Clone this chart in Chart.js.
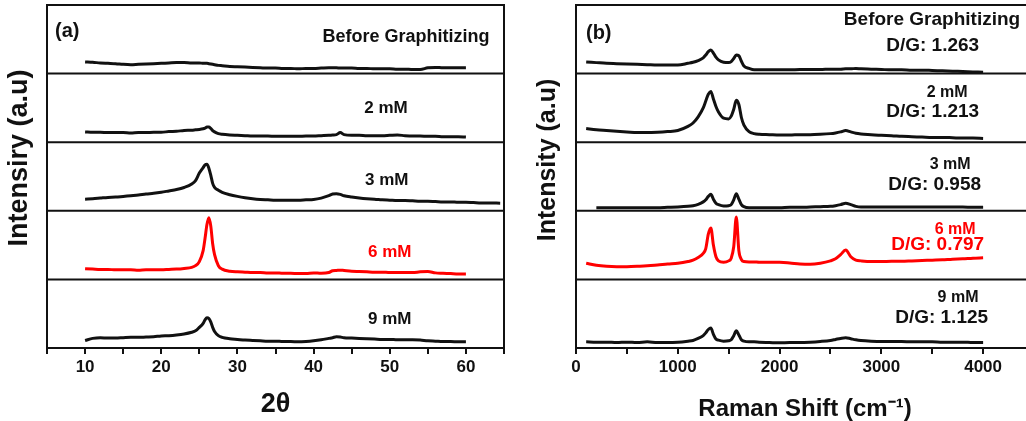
<!DOCTYPE html>
<html lang="en">
<head>
<meta charset="UTF-8">
<title>XRD and Raman spectra</title>
<script src="https://cdn.jsdelivr.net/npm/chart.js"></script>
<style>
  html, body { margin: 0; padding: 0; background: #fff; overflow: hidden; }
  #wrap { position: relative; width: 1026px; height: 421px; overflow: hidden; }
  canvas { position: absolute; top: 0; }
  #xrd { left: 0; }
  #raman { left: 513px; }
</style>
</head>
<body>
<div id="wrap">
  <canvas id="xrd" width="513" height="421"></canvas>
  <canvas id="raman" width="530" height="421"></canvas>
</div>
<script>
// ---- data ----
const samples = ['Before Graphitizing', '2 mM', '3 mM', '6 mM', '9 mM'];
const dgRatio = [1.263, 1.213, 0.958, 0.797, 1.125];
const seriesColor = ['#111', '#111', '#111', '#ff0000', '#111'];

// (a) XRD, 2theta in degrees, intensity in % of each sub-panel
const twoTheta = [10, 11, 12, 13, 14, 15, 16, 17, 18, 19, 20, 21, 22, 23, 24,
  24.5, 25, 25.5, 25.75, 26, 26.25, 26.5, 26.75, 27, 27.5, 28,
  29, 30, 31, 32, 33, 34, 35, 36, 37, 38, 39, 40, 41, 42,
  42.5, 43, 43.5, 44,
  45, 46, 47, 48, 49, 50, 51, 52, 53, 54, 55, 56, 57, 58, 59, 60,
  61, 62, 63, 64.5];
const xrdBefore = [17, 16.5, 15.5, 15, 14.5, 13.5, 13, 13.5, 14, 14.5, 15, 15.5, 16, 16, 15.5,
  15.5, 15.5, 15, 15, 15, 14.5, 14, 13.5, 13, 12, 11.5,
  10.5, 10, 9.5, 9, 8.5, 8, 8, 7.5, 7.5, 7, 7.5, 7.5, 8, 8.5,
  8.5, 8.5, 8, 8,
  8, 7.5, 7.5, 7, 7, 7, 6.5, 6.5, 6, 6, 8.5, 9, 8.5, 8.5, 8.5, 8.5,
  null, null, null, null];
const xrd2mM = [15, 14.5, 14.5, 14, 14, 14, 13.5, 14, 14, 14.5, 14.5, 15.5, 16, 17, 17.5,
  18, 18.5, 19.5, 20.5, 22, 22, 20, 17, 15, 12.5, 11.5,
  10.5, 10, 9.5, 9, 9, 9, 8.5, 8.5, 8.5, 8.5, 9, 9, 9.5, 10,
  10.5, 11, 14, 11,
  10, 10, 9.5, 9.5, 9.5, 10, 10.5, 9.5, 9, 9, 8.5, 8.5, 8, 8, 8, 7.5,
  null, null, null, null];
const xrd3mM = [17, 17.5, 18.5, 19.5, 20, 21, 22, 23, 24.5, 25.5, 27, 29, 31, 34, 39,
  44, 55, 63, 67, 68, 62, 52, 40, 34, 30, 27,
  23.5, 21, 19, 17.5, 16.5, 16, 15.5, 15.5, 15.5, 15.5, 16, 16.5, 18.5, 22,
  24.5, 25, 24, 22,
  20, 18.5, 17.5, 17, 16, 15.5, 15, 15, 14.5, 14, 14, 13.5, 13, 13, 12.5, 12.5,
  12, 11.5, 11.5, 11];
const xrd6mM = [15.5, 15, 14.5, 14.5, 14, 14, 14, 13.5, 14, 14, 14, 14.5, 15, 16, 17.5,
  20, 26, 42, 60, 80, 90, 78, 52, 36, 20, 15,
  12, 11, 10.5, 10, 10, 9.5, 9.5, 9, 9, 8.5, 8.5, 9.5, 9, 10,
  12.5, 13, 13.5, 13,
  12, 11.5, 11, 10.5, 10.5, 10, 10, 10, 10, 11, 11.5, 9.5, 9, 8.5, 8, 8,
  null, null, null, null];
const xrd9mM = [11, 14, 15, 14.5, 14.5, 15, 15.5, 15.5, 16, 16.5, 17.5, 18, 19, 20.5, 23,
  25, 30, 36, 41, 44, 43, 38, 30, 24, 18, 15.5,
  13.5, 12.5, 11.5, 11, 10.5, 10, 10, 9.5, 9.5, 9, 9.5, 10.5, 12, 14,
  15, 16.5, 16, 15,
  14.5, 14, 13.5, 13, 12.5, 12.5, 12, 12, 12, 11.5, 10.5, 10, 9.5, 9.5, 9, 9,
  null, null, null, null];

// (b) Raman, shift in cm-1, intensity in % of each sub-panel
const ramanShift = [100, 200, 300, 400, 500, 600, 700, 800, 900, 1000, 1100,
  1150, 1200, 1250, 1275, 1300, 1325, 1350, 1375, 1400,
  1450, 1500, 1525, 1550, 1575, 1600, 1625, 1650,
  1700, 1750, 1800,
  1900, 2000, 2100, 2200, 2300, 2400, 2500,
  2550, 2600, 2650, 2700, 2750,
  2800, 2900, 3000, 3100, 3200, 3300, 3400, 3500, 3600, 3700, 3800, 3900, 4000];
const ramanBefore = [17, 16, 15, 14.5, 14, 13.5, 13, 12.5, 12.5, 12.5, 15,
  16.5, 19, 23, 27, 32, 34.5, 30, 24, 20,
  16.5, 16, 17.5, 22, 27, 26, 18, 11,
  7.5, 5.5, 5.5,
  5.5, 5.5, 5.5, 6, 6, 6, 6.5,
  6.5, 6.5, 7, 7, 7.5,
  7, 6.5, 6, 5.5, 5.5, 5, 5, 4.5, 4, 3.5, 3, 2.5, 2];
const raman2mM = [20, 18, 17, 16, 15, 14, 14, 14.5, 15.5, 17, 23,
  28, 37, 50, 60, 70, 74, 63, 52, 44,
  35, 34, 38, 48, 61, 55, 36, 25,
  15.5, 12.5, 11.5,
  11, 10.5, 10.5, 11, 11, 11.5, 12.5,
  13.5, 15, 17, 15, 13,
  12, 11, 10, 9.5, 8.5, 8, 7.5, 7, 7, 6.5, 6, 6, 5.5];
const raman3mM = [null, 4.5, 4.5, 4.5, 4.5, 4.5, 4.5, 4.5, 5, 5.5, 6.5,
  7.5, 9.5, 13, 16, 21, 24, 17, 11, 9,
  7, 7.5, 9, 16, 25, 17, 9, 6,
  4.5, 4.5, 4.5,
  4.5, 4.5, 5, 5, 5.5, 6, 6.5,
  7.5, 9, 11, 9, 6.5,
  5.5, 5.5, 5.5, 5.5, 5.5, 5.5, 5.5, 5.5, 5.5, 5.5, 5.5, 5, 5];
const raman6mM = [23.5, 20.5, 19, 18.5, 18.5, 19, 20, 21, 22.5, 23.5, 26,
  28, 32, 38, 45, 66, 75, 50, 33, 27,
  25, 27, 31, 48, 91, 42, 29, 26,
  25.5, 25.5, 25,
  25, 25, 24, 22.5, 22, 23.5, 27,
  30, 36, 43, 33, 28,
  27, 26, 26, 26.5, 26.5, 27, 27.5, 28, 28.5, 29.5, 30, 31, 31.5];
const raman9mM = [9, 8.5, 8.5, 8, 8.5, 8, 9, 8, 8, 8.5, 10,
  11, 14, 18, 22, 27, 29, 20, 13, 11.5,
  10, 10.5, 12, 18, 25, 19, 12, 10,
  9, 9, 8.5,
  8, 7.5, 8, 8, 8.5, 9.5, 11,
  12.5, 14, 15, 13.5, 12,
  11, 10, 9.5, 9.5, 9.5, 9, 9, 9, 8.5, 8.5, 8.5, 8, 8];

const xrdTicks = [10, 20, 30, 40, 50, 60];
const ramanTicks = [0, 1000, 2000, 3000, 4000];

// ---- drawing ----
const family = "'Liberation Sans', Arial, sans-serif";
Chart.defaults.font.family = family;
Chart.defaults.color = '#111';

// frame, dividers between stacked sub-panels, in-panel labels and the y title
const panelDecor = {
  id: 'panelDecor',
  afterDatasetsDraw(chart, args, opts) {
    const { ctx, chartArea: a, scales } = chart;
    ctx.save();
    ctx.strokeStyle = '#111';
    ctx.lineWidth = 2;
    ctx.strokeRect(a.left, a.top, a.right - a.left, a.bottom - a.top);
    opts.axes.forEach(id => {
      const s = scales[id];
      if (s.top > a.top + 2) {
        ctx.beginPath();
        ctx.moveTo(a.left, s.top);
        ctx.lineTo(a.right, s.top);
        ctx.stroke();
      }
    });

    ctx.textBaseline = 'middle';
    opts.labels.forEach(l => {
      const s = scales[opts.axes[l.panel]];
      ctx.font = `bold ${l.size}px ${family}`;
      ctx.fillStyle = l.color || '#111';
      ctx.textAlign = l.align;
      ctx.fillText(l.text, scales.x.getPixelForValue(l.x), s.getPixelForValue(l.y));
    });

    const t = opts.yTitle;
    ctx.translate(t.x, t.y);
    ctx.rotate(-Math.PI / 2);
    ctx.font = `bold ${t.size}px ${family}`;
    ctx.fillStyle = '#111';
    ctx.textAlign = 'center';
    ctx.fillText(t.text, 0, 0);
    ctx.restore();
  }
};

const axisIds = ['y0', 'y1', 'y2', 'y3', 'y4'];

function stackedAxes(stack) {
  const axes = {};
  // left boxes are laid out last-first, so y0 ends on top
  for (let i = 4; i >= 0; i--) {
    axes['y' + i] = {
      type: 'linear',
      min: 0,
      max: 100,
      position: 'left',
      stack: stack,
      stackWeight: 1,
      ticks: { display: false },
      grid: { display: false },
      border: { display: false },
      afterFit: s => { s.width = 0; }
    };
  }
  return axes;
}

function makeDatasets(xs, series) {
  return series.map((vals, i) => ({
    label: samples[i],
    data: xs.map((x, j) => ({ x: x, y: vals[j] })),
    yAxisID: axisIds[i],
    borderColor: seriesColor[i],
    borderWidth: 3,
    pointRadius: 0,
    cubicInterpolationMode: 'monotone',
    spanGaps: false
  }));
}

function xAxis(min, max, step, labels, title, titleSize, titlePad) {
  return {
    type: 'linear',
    min: min,
    max: max,
    ticks: {
      stepSize: step,
      autoSkip: false,
      maxRotation: 0,
      padding: 3,
      font: { size: 17, weight: 'bold' },
      color: '#111',
      callback: v => labels.includes(v) ? String(v) : ''
    },
    grid: { drawOnChartArea: false, drawTicks: true, tickLength: 6, color: '#111', lineWidth: 2 },
    border: { display: false },
    title: {
      display: true,
      text: title,
      color: '#111',
      font: { size: titleSize, weight: 'bold', lineHeight: 1 },
      padding: { top: 0, bottom: titlePad }
    },
    afterFit: s => { s.height = 73; }
  };
}

const common = {
  responsive: false,
  animation: false,
  events: [],
  plugins: { legend: { display: false }, tooltip: { enabled: false } }
};

new Chart(document.getElementById('xrd'), {
  type: 'line',
  data: { datasets: makeDatasets(twoTheta, [xrdBefore, xrd2mM, xrd3mM, xrd6mM, xrd9mM]) },
  options: {
    ...common,
    layout: { padding: { left: 47, top: 5, right: 9, bottom: 0 } },
    scales: { x: xAxis(5, 65, 5, xrdTicks, '2θ', 27, 3), ...stackedAxes('xrd') },
    plugins: {
      ...common.plugins,
      panelDecor: {
        axes: axisIds,
        yTitle: { text: 'Intensiry (a.u)', x: 20, y: 158, size: 27 },
        labels: [
          { panel: 0, text: '(a)', x: 6.05, y: 62, align: 'left', size: 20 },
          { panel: 0, text: samples[0], x: 63.1, y: 53, align: 'right', size: 18 },
          { panel: 1, text: samples[1], x: 49.5, y: 49, align: 'center', size: 17 },
          { panel: 2, text: samples[2], x: 49.6, y: 44, align: 'center', size: 17 },
          { panel: 3, text: samples[3], x: 50, y: 39, align: 'center', size: 17, color: seriesColor[3] },
          { panel: 4, text: samples[4], x: 50, y: 42, align: 'center', size: 17 }
        ]
      }
    }
  },
  plugins: [panelDecor]
});

const dg = i => 'D/G: ' + dgRatio[i].toFixed(3);

new Chart(document.getElementById('raman'), {
  type: 'line',
  data: { datasets: makeDatasets(ramanShift, [ramanBefore, raman2mM, raman3mM, raman6mM, raman9mM]) },
  options: {
    ...common,
    layout: { padding: { left: 63, top: 5, right: 9, bottom: 0 } },
    scales: { x: xAxis(0, 4500, 500, ramanTicks, 'Raman Shift (cm⁻¹)', 24, 0), ...stackedAxes('raman') },
    plugins: {
      ...common.plugins,
      panelDecor: {
        axes: axisIds,
        yTitle: { text: 'Intensity (a.u)', x: 35, y: 160, size: 25 },
        labels: [
          { panel: 0, text: '(b)', x: 98, y: 59, align: 'left', size: 20 },
          { panel: 0, text: samples[0], x: 4364, y: 78, align: 'right', size: 19 },
          { panel: 0, text: dg(0), x: 3961, y: 40, align: 'right', size: 19 },
          { panel: 1, text: samples[1], x: 3646, y: 72, align: 'center', size: 16 },
          { panel: 1, text: dg(1), x: 3961, y: 45, align: 'right', size: 19 },
          { panel: 2, text: samples[2], x: 3676, y: 68, align: 'center', size: 16 },
          { panel: 2, text: dg(2), x: 3980, y: 38, align: 'right', size: 19 },
          { panel: 3, text: samples[3], x: 3725, y: 73, align: 'center', size: 16, color: seriesColor[3] },
          { panel: 3, text: dg(3), x: 4010, y: 50, align: 'right', size: 19, color: seriesColor[3] },
          { panel: 4, text: samples[4], x: 3754, y: 74, align: 'center', size: 16 },
          { panel: 4, text: dg(4), x: 4049, y: 44, align: 'right', size: 19 }
        ]
      }
    }
  },
  plugins: [panelDecor]
});
</script>
</body>
</html>
